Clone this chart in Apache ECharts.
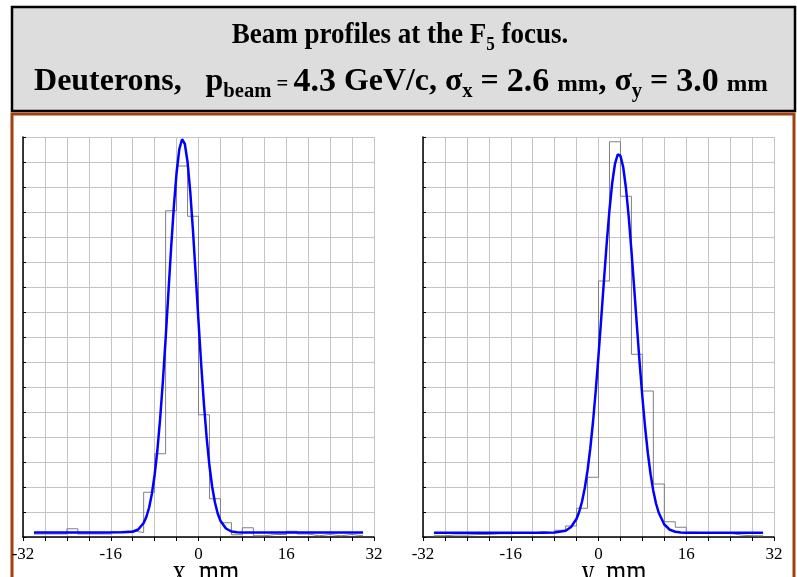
<!DOCTYPE html>
<html>
<head>
<meta charset="utf-8">
<script src="https://cdn.jsdelivr.net/npm/echarts@6/dist/echarts.min.js"></script>
<style>
html, body { margin: 0; padding: 0; background: #fff; }
#chart { width: 797px; height: 577px; }
</style>
</head>
<body>
<div id="chart"></div>
<script>
// histogram bins: left edges, 2 mm wide
var binEdges = [-30,-28,-26,-24,-22,-20,-18,-16,-14,-12,-10,-8,-6,-4,-2,0,2,4,6,8,10,12,14,16,18,20,22,24,26,28];
var histX = [0.12,0.12,0.12,0.33,0.12,0.12,0.12,0.21,0.25,0.18,1.79,3.33,13.05,14.84,12.83,4.89,1.53,0.57,0.09,0.37,0.05,0.10,0.10,0.23,0.12,0.05,0.10,0.05,0.10,0.05];
var histY = [0.05,0.08,0.08,0.10,0.10,0.13,0.13,0.16,0.16,0.22,0.16,0.27,0.44,1.15,2.39,10.24,15.81,13.63,7.31,5.84,2.12,0.61,0.39,0.19,0.15,0.15,0.15,0.08,0.05,0.05];

// fitted curves
var fitXPos = [-30,-24,-18,-14,-12,-11,-10,-9.5,-9,-8.5,-8,-7.5,-7,-6.5,-6,-5.5,-5,-4.5,-4,-3.5,-3,-2.5,-2,-1.5,-1,-0.5,0,0.5,1,1.5,2,2.5,3,3.5,4,5,6,7,8,12,18,24,30];
var fitXVal = [0.18,0.18,0.18,0.19,0.21,0.30,0.56,0.81,1.18,1.73,2.48,3.47,4.72,6.21,7.91,9.73,11.54,13.20,14.57,15.51,15.91,15.73,15.01,13.80,12.23,10.46,8.63,6.87,5.29,3.94,2.84,2.00,1.38,0.94,0.65,0.34,0.22,0.19,0.18,0.18,0.18,0.18,0.18];
var fitYPos = [-30,-24,-18,-12,-10,-8,-6,-5,-4,-3.5,-3,-2.5,-2,-1.5,-1,-0.5,0,0.5,1,1.5,2,2.5,3,3.5,4,4.5,5,5.5,6,6.5,7,7.5,8,8.5,9,9.5,10,10.5,11,12,13,14,15,16,20,24,30];
var fitYVal = [0.17,0.17,0.17,0.17,0.17,0.18,0.25,0.40,0.73,1.02,1.42,1.96,2.66,3.54,4.61,5.86,7.26,8.75,10.28,11.76,13.08,14.16,14.92,15.30,15.25,14.80,13.97,12.83,11.47,9.98,8.45,6.97,5.60,4.38,3.35,2.51,1.84,1.33,0.96,0.50,0.29,0.21,0.18,0.17,0.17,0.17,0.17];

var tickLabels = [-32, -16, 0, 16, 32];
var axisNames = ['x, mm', 'y, mm'];

function stepPoints(vals) {
    var pts = binEdges.map(function (e, i) { return [e, vals[i]]; });
    pts.push([binEdges[binEdges.length - 1] + 2, vals[vals.length - 1]]);
    return pts;
}
function curvePoints(xs, ys) {
    return xs.map(function (x, i) { return [x, ys[i]]; });
}

var serif = 'Liberation Serif';
var gridColor = '#c4c4c4';

function makeX(idx) {
    return {
        gridIndex: idx,
        type: 'value',
        min: -32, max: 32, interval: 4,
        axisLine: { show: true, onZero: false, lineStyle: { color: '#000', width: 1.5 } },
        axisTick: { show: true, length: 4, lineStyle: { color: '#000' } },
        axisLabel: {
            showMinLabel: true, showMaxLabel: true,
            formatter: function (v) { return tickLabels.indexOf(v) >= 0 ? String(v) : ''; },
            fontFamily: serif, fontSize: 17, color: '#000', margin: 9
        },
        splitLine: { show: true, lineStyle: { color: gridColor, width: 1 } }
    };
}
function makeY(idx) {
    return {
        gridIndex: idx,
        type: 'value',
        min: 0, max: 16, interval: 1,
        axisLine: { show: true, onZero: false, lineStyle: { color: '#000', width: 1.5 } },
        axisTick: { show: true, inside: true, length: 3, lineStyle: { color: '#000' } },
        axisLabel: { show: false },
        splitLine: { show: true, lineStyle: { color: gridColor, width: 1 } }
    };
}

var txt = { fontFamily: serif, fontWeight: 'bold', fill: '#000' };
function rs(size, extra) {
    return Object.assign({ fontSize: size, lineHeight: 40 }, txt, extra || {});
}
function axisName(text, cx) {
    return { type: 'text', x: cx, y: 556, scaleY: 1.35,
             style: { text: text, align: 'center', verticalAlign: 'top',
                      fontFamily: serif, fontSize: 26, fill: '#000' } };
}

var chart = echarts.init(document.getElementById('chart'));
var option = {
    backgroundColor: '#fff',
    animation: false,
    grid: [
        { left: 23, top: 137, width: 351, height: 400, outerBoundsMode: 'none' },
        { left: 423, top: 137, width: 351, height: 400, outerBoundsMode: 'none' }
    ],
    xAxis: [makeX(0), makeX(1)],
    yAxis: [makeY(0), makeY(1)],
    series: [
        { type: 'line', xAxisIndex: 0, yAxisIndex: 0, step: 'end', symbol: 'none',
          lineStyle: { color: '#808080', width: 1 }, data: stepPoints(histX), z: 3 },
        { type: 'line', xAxisIndex: 0, yAxisIndex: 0, symbol: 'none', smooth: false,
          lineStyle: { color: '#0000ff', width: 2.5 }, data: curvePoints(fitXPos, fitXVal), z: 4 },
        { type: 'line', xAxisIndex: 1, yAxisIndex: 1, step: 'end', symbol: 'none',
          lineStyle: { color: '#808080', width: 1 }, data: stepPoints(histY), z: 3 },
        { type: 'line', xAxisIndex: 1, yAxisIndex: 1, symbol: 'none', smooth: false,
          lineStyle: { color: '#0000ff', width: 2.5 }, data: curvePoints(fitYPos, fitYVal), z: 4 }
    ],
    graphic: [
        { type: 'rect', z: -10, shape: { x: 12, y: 7, width: 783, height: 104 },
          style: { fill: '#dddddd', stroke: '#000', lineWidth: 2.5 } },
        { type: 'rect', z: -10, shape: { x: 12, y: 114, width: 782, height: 500 },
          style: { fill: 'none', stroke: '#a0410d', lineWidth: 3 } },
        { type: 'text', x: 400, y: 35, scaleX: 0.9,
          style: Object.assign({
              text: 'Beam profiles at the F{s|5} focus.',
              align: 'center', verticalAlign: 'middle',
              fontSize: 30, lineHeight: 40,
              rich: { s: rs(19, { verticalAlign: 'bottom' }) }
          }, txt) },
        { type: 'text', x: 401, y: 82, scaleX: 1.03,
          style: Object.assign({
              text: 'Deuterons,   p{sb|beam}{eq| = }{n|4.3} GeV/c, σ{s|x} = {n|2.6} {sm|mm}, σ{s|y} = {n|3.0} {sm|mm}',
              align: 'center', verticalAlign: 'middle',
              fontSize: 31, lineHeight: 40,
              rich: {
                  s: rs(20, { verticalAlign: 'bottom' }),
                  sb: rs(20, { verticalAlign: 'bottom' }),
                  n: rs(33),
                  eq: rs(20, { padding: [6, 0, 0, 0] }),
                  sm: rs(24, { padding: [5, 0, 0, 0] })
              }
          }, txt) },
        axisName(axisNames[0], 206),
        axisName(axisNames[1], 614)
    ]
};
chart.setOption(option);
</script>
</body>
</html>
